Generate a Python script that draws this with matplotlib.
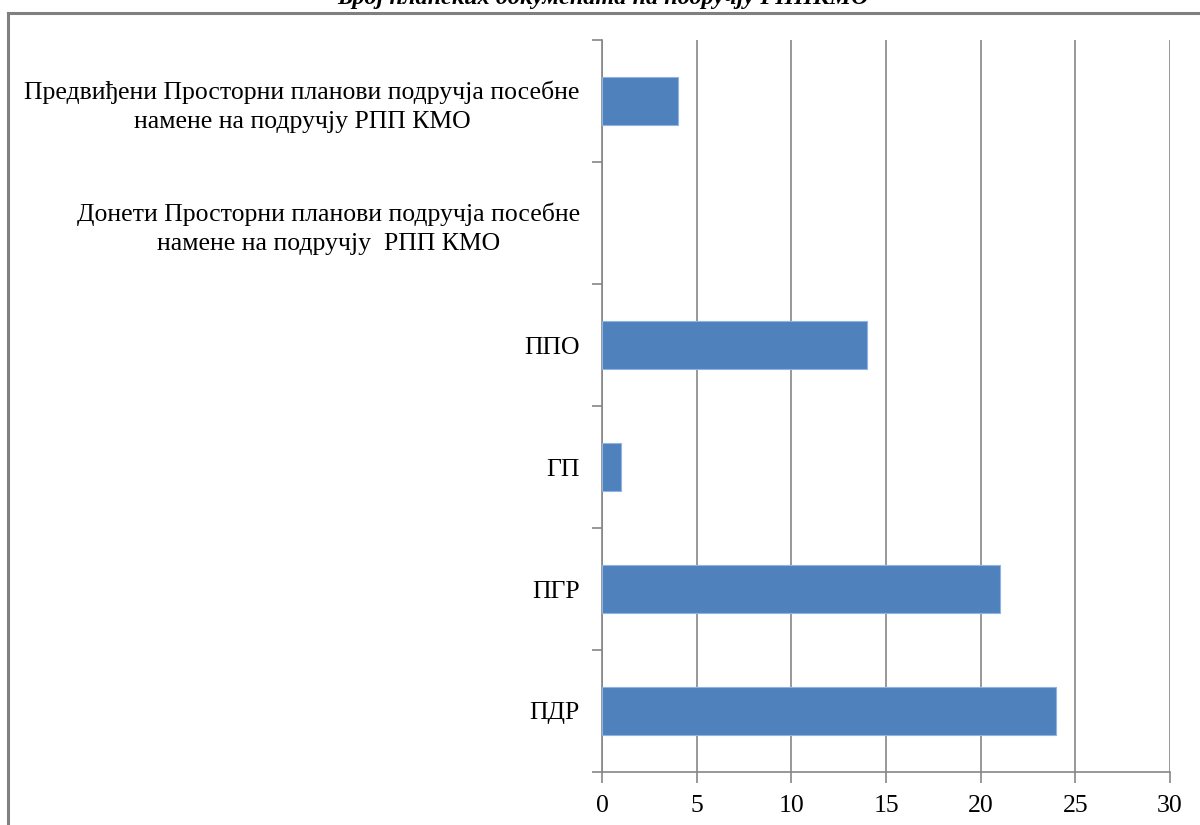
import matplotlib.pyplot as plt
from matplotlib.lines import Line2D
from matplotlib.ticker import FixedLocator

plt.rcParams['font.family'] = ['Liberation Serif', 'DejaVu Serif']

# categories from bottom to top
categories = ['ПДР', 'ПГР', 'ГП', 'ППО',
              'Донети Просторни планови подручја посебне\nнамене на подручју  РПП КМО',
              'Предвиђени Просторни планови подручја посебне\nнамене на подручју РПП КМО']
values = [24, 21, 1, 14, 0, 4]
title = 'Број планских докумената на подручју РППКМО'
xticks = [0, 5, 10, 15, 20, 25, 30]

fig = plt.figure(figsize=(12, 8.25), dpi=100)
ax = fig.add_axes([602/1200, 1 - 772/825, 568/1200, 732/825])

pos = list(range(len(categories)))
ax.barh(pos, values, height=0.4, color='#4F81BD', edgecolor='#8EB4E3',
        linewidth=[0.8 if v else 0 for v in values], zorder=3)

ax.set_xlim(0, 30)
ax.set_ylim(-0.5, len(categories) - 0.5)
ax.set_xticks(xticks)
ax.set_xticklabels([str(t) for t in xticks], fontsize=18.5)
ax.set_yticks(pos)
ax.set_yticklabels(categories, fontsize=18.5, multialignment='center', linespacing=1.38)
ax.yaxis.set_minor_locator(FixedLocator([p - 0.5 for p in pos] + [len(pos) - 0.5]))

ax.tick_params(axis='y', which='major', length=0, pad=16)
ax.tick_params(axis='y', which='minor', length=7, color='#868686', width=1.2)
ax.tick_params(axis='x', length=8, color='#868686', width=1.2, pad=8.5)

ax.grid(axis='x', color='#868686', linewidth=1.2, zorder=0)
for s in ['top', 'right']:
    ax.spines[s].set_visible(False)
for s in ['left', 'bottom']:
    ax.spines[s].set_color('#868686')
    ax.spines[s].set_linewidth(1.2)

# outer frame, cut off at right and bottom
fig.add_artist(Line2D([8/1200, 1.01], [1 - 13/825, 1 - 13/825], color='#808080', linewidth=2.2))
fig.add_artist(Line2D([8/1200, 8/1200], [-0.01, 1 - 13/825], color='#808080', linewidth=2.2))

fig.text(603/1200, 1 - 4/825, title, ha='center', va='baseline', fontsize=17.5,
         fontweight='bold', fontstyle='italic')

fig.savefig('out.png', dpi=100)
